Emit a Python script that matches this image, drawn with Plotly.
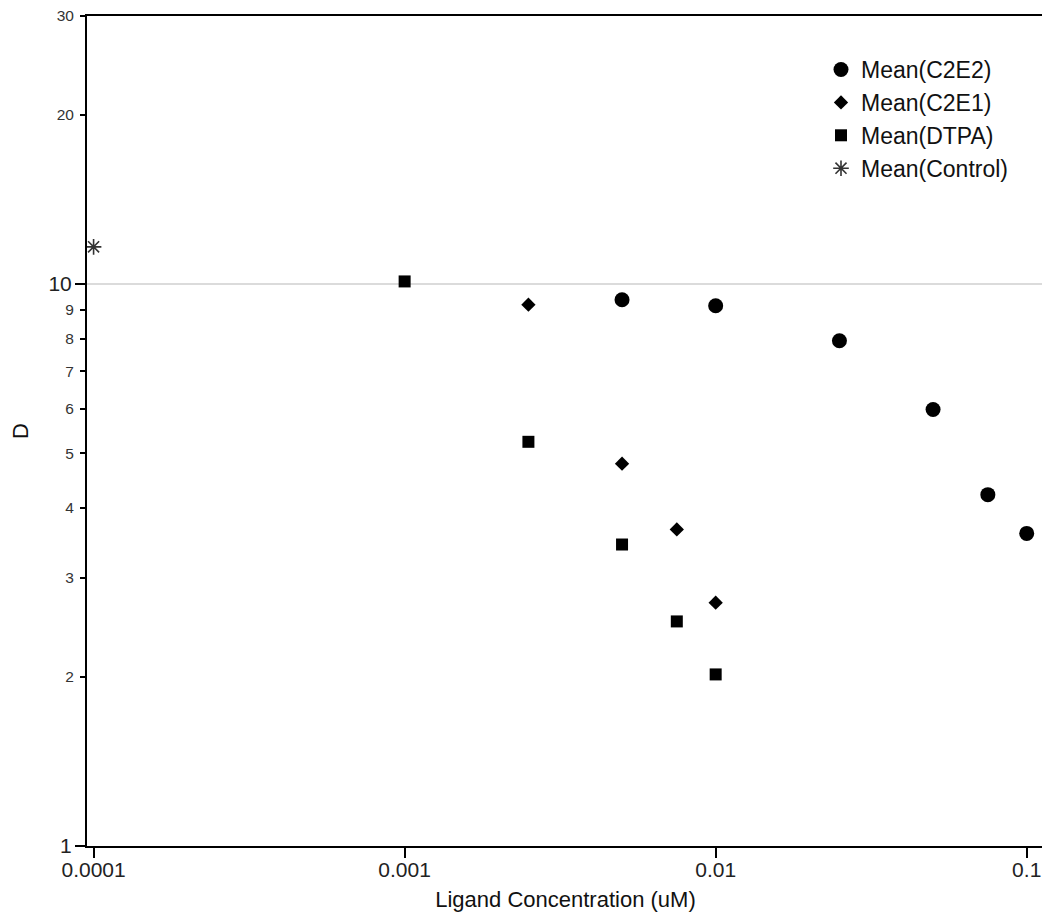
import numpy as np
import plotly.graph_objects as go

# ---- data ----
conc_c2e2 = [0.005, 0.01, 0.025, 0.05, 0.075, 0.1]
d_c2e2 = [9.38, 9.15, 7.93, 5.98, 4.22, 3.60]

conc_c2e1 = [0.0025, 0.005, 0.0075, 0.01]
d_c2e1 = [9.19, 4.79, 3.66, 2.71]

conc_dtpa = [0.001, 0.0025, 0.005, 0.0075, 0.01]
d_dtpa = [10.11, 5.24, 3.44, 2.51, 2.02]

conc_control = [0.0001]
d_control = [11.65]

x_tickvals = [0.0001, 0.001, 0.01, 0.1]
x_ticktext = ["0.0001", "0.001", "0.01", "0.1"]
y_major_vals = [1, 10]
y_minor_vals = [2, 3, 4, 5, 6, 7, 8, 9, 20, 30]

FONT = "Liberation Sans, Arial, sans-serif"

fig = go.Figure()
fig.add_trace(go.Scatter(x=conc_c2e2, y=d_c2e2, mode="markers", name="Mean(C2E2)",
                         legendgroup="a",
                         marker=dict(symbol="circle", size=15, color="#000")))
fig.add_trace(go.Scatter(x=conc_c2e1, y=d_c2e1, mode="markers", name="Mean(C2E1)",
                         legendgroup="b",
                         marker=dict(symbol="diamond", size=11, color="#000")))
fig.add_trace(go.Scatter(x=conc_dtpa, y=d_dtpa, mode="markers", name="Mean(DTPA)",
                         legendgroup="c",
                         marker=dict(symbol="square", size=12, color="#000")))
fig.add_trace(go.Scatter(x=conc_control, y=d_control, mode="markers", name="Mean(Control)",
                         legendgroup="d",
                         marker=dict(symbol="asterisk-open", size=13, color="#333",
                                     line=dict(width=1.6, color="#333"))))
# invisible trace for overlay axis
fig.add_trace(go.Scatter(x=conc_control, y=d_control, mode="markers", yaxis="y2",
                         marker=dict(opacity=0), showlegend=False, hoverinfo="skip"))

yrange = [0, np.log10(30) + 1e-5]
fig.add_shape(type="line", xref="paper", x0=0, x1=1, yref="y", y0=10, y1=10,
              line=dict(color="#cfcfcf", width=1.5), layer="below")

W, H = 1042, 905
fig.update_layout(
    width=W, height=H,
    margin=dict(l=79, r=6, t=8, b=67, autoexpand=False),
    paper_bgcolor="white", plot_bgcolor="white",
    font=dict(family=FONT, color="#111"),
    showlegend=True,
    legend=dict(x=(813 - 79) / 957, y=0.9614, xanchor="left", yanchor="top",
                font=dict(size=23, family=FONT, color="#111"),
                bgcolor="rgba(0,0,0,0)", tracegroupgap=0),
    xaxis=dict(type="log", range=[-4.0212, -0.9444], autorange=False, automargin=False,
               tickvals=x_tickvals, ticktext=x_ticktext,
               ticks="outside", ticklen=10, tickwidth=1.5, tickcolor="#000",
               showline=True, linecolor="#000", linewidth=2, mirror=True,
               showgrid=False, zeroline=False,
               tickfont=dict(size=21, family=FONT, color="#222"),
               ticklabelstandoff=-6,
               title=dict(text="Ligand Concentration (uM)", font=dict(size=22, family=FONT, color="#111"),
                          standoff=11)),
    yaxis=dict(type="log", range=yrange, autorange=False, automargin=False,
               tickvals=y_major_vals, ticktext=["1", "10"],
               ticks="outside", ticklen=10, tickwidth=1.5, tickcolor="#000",
               showline=True, linecolor="#000", linewidth=2, mirror=True,
               showgrid=False, zeroline=False,
               tickfont=dict(size=21, family=FONT, color="#222"),
               ticklabelstandoff=-1, ticklabeloverflow="allow",
               title=dict(text="D", font=dict(size=22, family=FONT, color="#111"), standoff=19)),
    yaxis2=dict(type="log", range=yrange, autorange=False, overlaying="y", side="left",
                anchor="x", automargin=False,
                tickvals=y_minor_vals, ticktext=[str(v) for v in y_minor_vals],
                ticks="outside", ticklen=6, tickwidth=1.5, tickcolor="#000",
                showline=False, showgrid=False, zeroline=False,
                tickfont=dict(size=15.5, family=FONT, color="#333"),
                ticklabelstandoff=3, ticklabeloverflow="allow"),
)

fig.write_html("out.html")
